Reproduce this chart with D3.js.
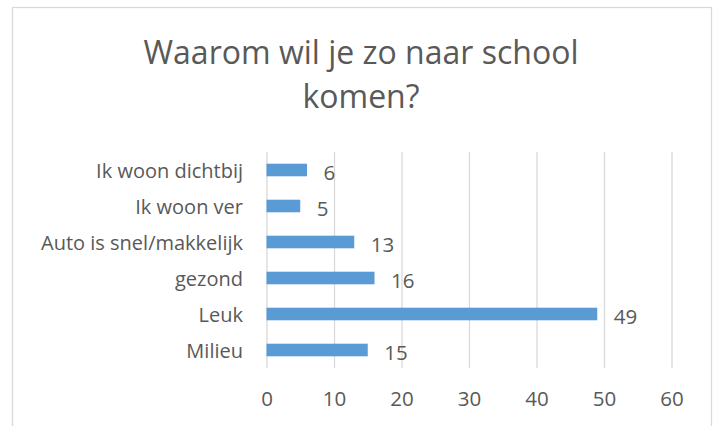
<!DOCTYPE html>
<html>
<head>
<meta charset="utf-8">
<script src="https://cdn.jsdelivr.net/npm/d3@7"></script>
<style>
  body { margin: 0; background: #fff; }
  text { font-family: 'Open Sans', sans-serif; fill: #595959; }
</style>
</head>
<body>
<div id="container"></div>
<script>
const width = 715;
const height = 426;

const titleLines = ['Waarom wil je zo naar school', 'komen?'];
const categories = ['Ik woon dichtbij', 'Ik woon ver', 'Auto is snel/makkelijk', 'gezond', 'Leuk', 'Milieu'];
const values = [6, 5, 13, 16, 49, 15];
const xTicks = [0, 10, 20, 30, 40, 50, 60];

const svg = d3
  .select('#container')
  .append('svg')
  .attr('width', width)
  .attr('height', height);

// chart frame
svg
  .append('rect')
  .attr('x', 12.5)
  .attr('y', 7.5)
  .attr('width', 699)
  .attr('height', 440)
  .attr('fill', '#fff')
  .attr('stroke', '#d9d9d9')
  .attr('stroke-width', 1.3);

// title
svg
  .selectAll('.title')
  .data(titleLines)
  .enter()
  .append('text')
  .attr('class', 'title')
  .attr('x', 361)
  .attr('y', (d, i) => 64 + i * 44)
  .attr('text-anchor', 'middle')
  .style('font-size', '32px')
  .text(d => d);

const x = d3.scaleLinear().domain([0, 60]).range([266.5, 671.5]);
const y = d3
  .scaleBand()
  .domain(categories)
  .range([152, 368])
  .paddingInner(0.65)
  .paddingOuter(0.325);

// gridlines + tick labels
const xAxis = svg
  .append('g')
  .attr('transform', 'translate(0,368)')
  .call(
    d3
      .axisBottom(x)
      .tickValues(xTicks)
      .tickSize(-216)
      .tickPadding(23)
  );
xAxis.select('.domain').remove();
xAxis.selectAll('line').attr('stroke', '#d9d9d9').attr('stroke-width', 1.3);
xAxis
  .selectAll('text')
  .style('font-size', '20.5px')
  .style('font-family', "'Open Sans', sans-serif")
  .attr('fill', '#595959');

// bars
svg
  .selectAll('.bar')
  .data(categories)
  .enter()
  .append('rect')
  .attr('class', 'bar')
  .attr('x', x(0))
  .attr('y', d => y(d))
  .attr('width', (d, i) => x(values[i]) - x(0))
  .attr('height', y.bandwidth())
  .attr('fill', '#5b9bd5');

// category labels
svg
  .selectAll('.cat')
  .data(categories)
  .enter()
  .append('text')
  .attr('class', 'cat')
  .attr('x', 243)
  .attr('y', d => y(d) + y.bandwidth() / 2 + 1)
  .attr('dy', '0.35em')
  .attr('text-anchor', 'end')
  .style('font-size', '20px')
  .text(d => d);

// value labels
svg
  .selectAll('.val')
  .data(categories)
  .enter()
  .append('text')
  .attr('class', 'val')
  .attr('x', (d, i) => x(values[i]) + 16.5)
  .attr('y', d => y(d) + y.bandwidth() / 2 + 2.5)
  .attr('dy', '0.35em')
  .style('font-size', '20.5px')
  .text((d, i) => values[i]);
</script>
</body>
</html>
